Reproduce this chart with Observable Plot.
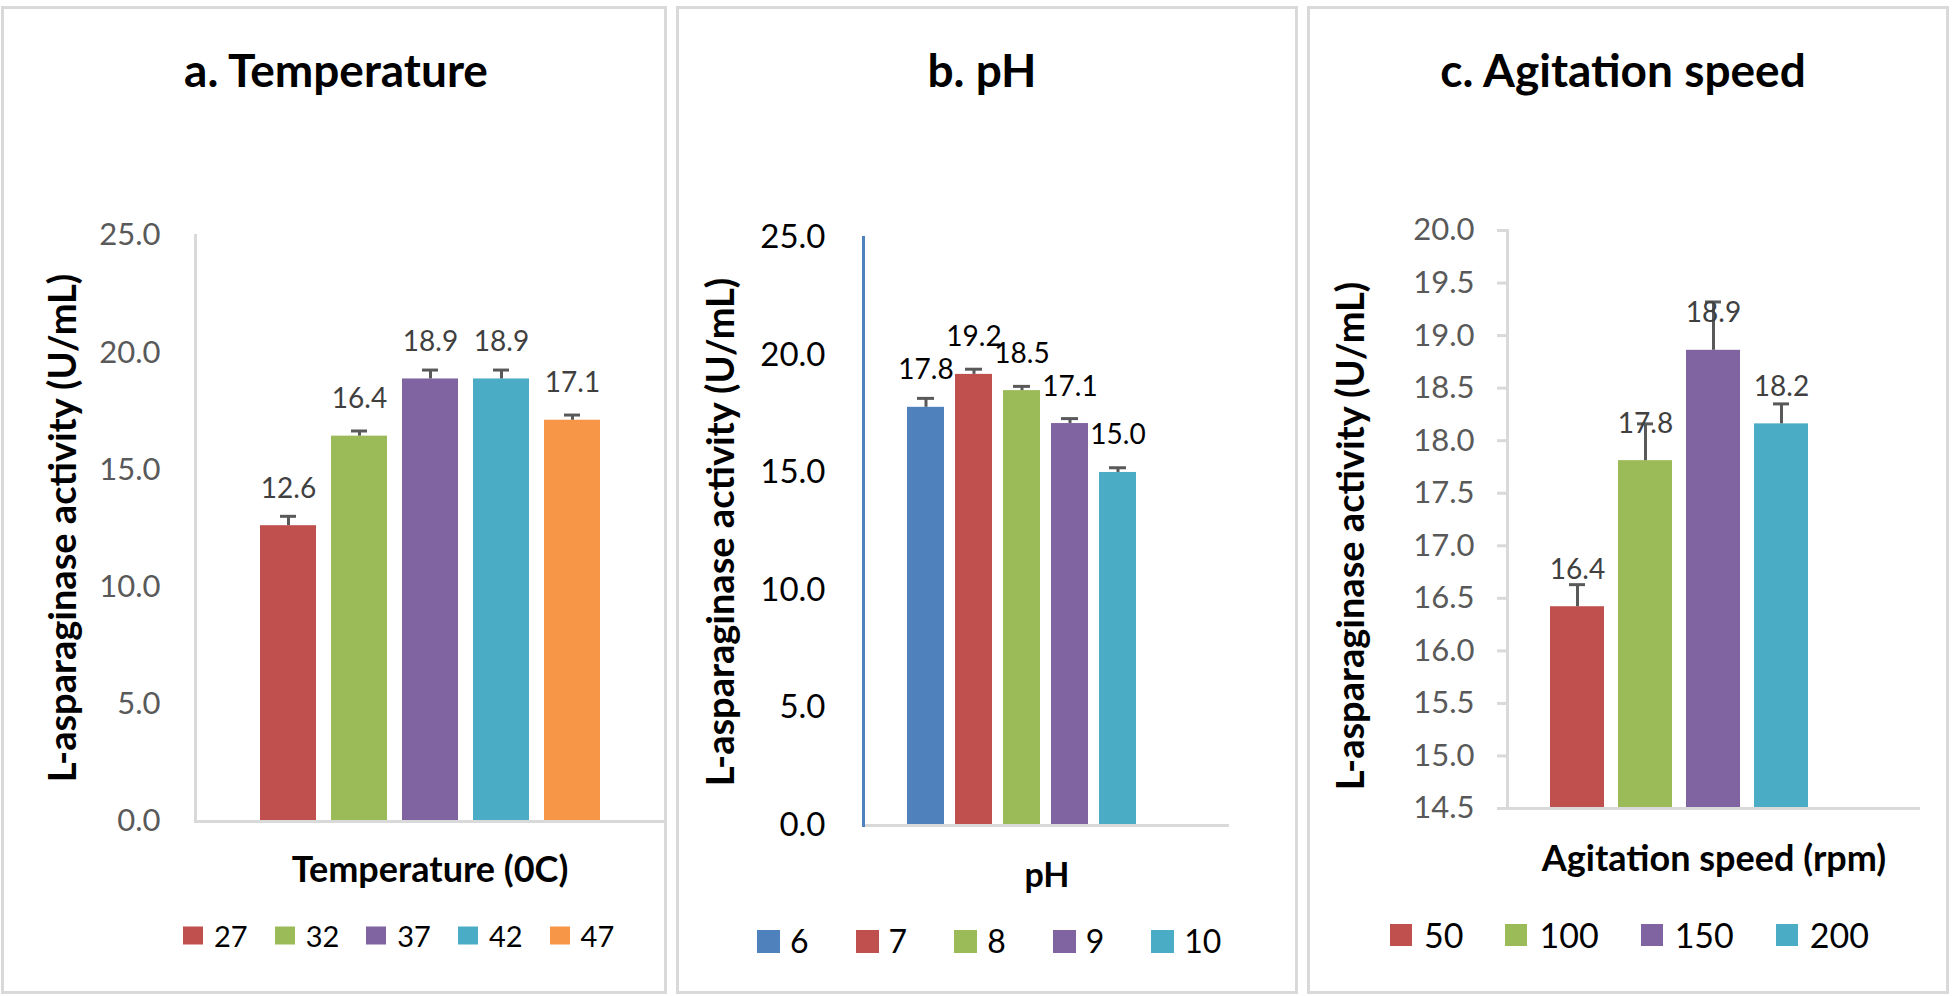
<!DOCTYPE html>
<html><head><meta charset="utf-8">
<script src="https://cdn.jsdelivr.net/npm/d3@7"></script>
<script src="https://cdn.jsdelivr.net/npm/@observablehq/plot@0.6"></script>
<style>
body{margin:0;width:1952px;height:996px;background:#fff;position:relative;overflow:hidden;font-family:Lato,sans-serif}
.panel{position:absolute;border:3px solid #d9d9d9;box-sizing:border-box}
.title{position:absolute;font-weight:bold;font-size:46px;transform:translate(-50%,-50%);white-space:nowrap;color:#000;line-height:1}
.ylab{position:absolute;font-weight:bold;font-size:38px;transform:translate(-50%,-50%) rotate(-90deg);white-space:nowrap;color:#000;line-height:1}
.xlab{position:absolute;font-weight:bold;transform:translate(-50%,-50%);white-space:nowrap;color:#000;line-height:1}
.legend{position:absolute;display:flex;align-items:center;transform:translateY(-50%);white-space:nowrap;color:#000;line-height:1}
.legend .sw{display:inline-block}
.plot{position:absolute}
.plot svg{overflow:visible}
</style></head><body>
<script>
// ---- data ----
const tempCats = ["27", "32", "37", "42", "47"];
const tempValues = [12.62, 16.44, 18.88, 18.88, 17.12];
const tempErrors = [0.40, 0.22, 0.38, 0.38, 0.22];
const tempTicks = [0, 5, 10, 15, 20, 25];

const phCats = ["6", "7", "8", "9", "10"];
const phValues = [17.78, 19.18, 18.49, 17.09, 15.01];
const phErrors = [0.38, 0.22, 0.18, 0.21, 0.20];
const phTicks = [0, 5, 10, 15, 20, 25];

const speedCats = ["50", "100", "150", "200"];
const speedValues = [16.42, 17.81, 18.86, 18.16];
const speedErrors = [0.21, 0.35, 0.46, 0.19];
const speedTicks = [14.5, 15, 15.5, 16, 16.5, 17, 17.5, 18, 18.5, 19, 19.5, 20];

// ---- palette ----
const RED = "#C0504D", GREEN = "#9BBB59", PURPLE = "#8064A2", AQUA = "#4BACC6", ORANGE = "#F79646", BLUE = "#4F81BD";
const tempColors = [RED, GREEN, PURPLE, AQUA, ORANGE];
const phColors = [BLUE, RED, GREEN, PURPLE, AQUA];
const speedColors = [RED, GREEN, PURPLE, AQUA];

const panels = [
  {
    title: "a. Temperature", xLabel: "Temperature (0C)", yLabel: "L-asparaginase activity (U/mL)",
    cats: tempCats, values: tempValues, errors: tempErrors, ticks: tempTicks, colors: tempColors,
    box: {left: 1, width: 666}, titleX: 336,
    svg: {left: 0, width: 666, marginLeft: 195, marginTop: 45, marginBottom: 59},
    band: {paddingInner: 0.208, paddingOuter: 0.875, align: 0.5}, capInset: 20,
    yLabelPos: [61, 528], xLabelPos: [430, 868], xLabelFont: 36,
    tickSize: 0, tickPadding: 35, tickFont: 31, tickColor: "#595959", axisColor: "#d9d9d9",
    labelColor: "#404040",
    legend: {left: 183, top: 935, sw: [20, 18], gap: 11, space: 27, font: 29}
  },
  {
    title: "b. pH", xLabel: "pH", yLabel: "L-asparaginase activity (U/mL)",
    cats: phCats, values: phValues, errors: phErrors, ticks: phTicks, colors: phColors,
    box: {left: 676, width: 622}, titleX: 982,
    svg: {left: 677, width: 552, marginLeft: 186, marginTop: 47, marginBottom: 55},
    band: {paddingInner: 0.22, paddingOuter: 1.367, align: 0.323}, capInset: 10,
    yLabelPos: [719, 532], xLabelPos: [1047, 874], xLabelFont: 34,
    tickSize: 0, tickPadding: 38, tickFont: 33, tickColor: "#000000", axisColor: BLUE,
    labelColor: "#000000",
    legend: {left: 757, top: 941, sw: [23, 23], gap: 10, space: 47, font: 32}
  },
  {
    title: "c. Agitation speed", xLabel: "Agitation speed (rpm)", yLabel: "L-asparaginase activity (U/mL)",
    cats: speedCats, values: speedValues, errors: speedErrors, ticks: speedTicks, colors: speedColors,
    box: {left: 1307, width: 642}, titleX: 1623,
    svg: {left: 1308, width: 612, marginLeft: 199, marginTop: 40, marginBottom: 72},
    band: {paddingInner: 0.2, paddingOuter: 1.106, align: 0.276}, capInset: 19,
    yLabelPos: [1349, 536], xLabelPos: [1714, 857], xLabelFont: 36,
    tickSize: 10, tickPadding: 23, tickFont: 31, tickColor: "#595959", axisColor: "#d9d9d9",
    labelColor: "#404040",
    legend: {left: 1390, top: 935, sw: [22, 22], gap: 12, space: 42, font: 34}
  }
];

const SVG_TOP = 190, SVG_H = 690;

function el(tag, cls, css, text) {
  const e = document.createElement(tag);
  if (cls) e.className = cls;
  Object.assign(e.style, css || {});
  if (text != null) e.textContent = text;
  document.body.appendChild(e);
  return e;
}

for (const p of panels) {
  el("div", "panel", {left: p.box.left + "px", top: "6px", width: p.box.width + "px", height: "988px"});
  el("div", "title", {left: p.titleX + "px", top: "70px"}, p.title);

  const data = p.cats.map((c, i) => ({cat: c, value: p.values[i], err: p.errors[i]}));
  const y0 = p.ticks[0], y1 = p.ticks[p.ticks.length - 1];

  const chart = Plot.plot({
    width: p.svg.width, height: SVG_H,
    marginLeft: p.svg.marginLeft, marginRight: 0,
    marginTop: p.svg.marginTop, marginBottom: p.svg.marginBottom,
    style: {fontFamily: "Lato, sans-serif", background: "transparent", overflow: "visible"},
    x: {domain: p.cats, paddingInner: p.band.paddingInner, paddingOuter: p.band.paddingOuter, align: p.band.align, axis: null},
    y: {domain: [y0, y1], axis: null, label: null},
    color: {domain: p.cats, range: p.colors},
    marks: [
      Plot.barY(data, {x: "cat", y1: () => y0, y2: "value", fill: "cat"}),
      Plot.ruleY([y0], {stroke: "#d9d9d9", strokeWidth: 3}),
      Plot.frame({anchor: "left", stroke: p.axisColor, strokeWidth: 3}),
      Plot.axisY({ticks: p.ticks, tickFormat: d => d.toFixed(1), tickSize: p.tickSize, tickPadding: p.tickPadding,
                  fontSize: p.tickFont, fill: p.tickColor, stroke: "#d9d9d9", strokeWidth: 3, label: null}),
      Plot.ruleX(data, {x: "cat", y1: "value", y2: d => d.value + d.err, stroke: "#595959", strokeWidth: 3}),
      Plot.tickY(data, {x: "cat", y: d => d.value + d.err, stroke: "#595959", strokeWidth: 3, insetLeft: p.capInset, insetRight: p.capInset}),
      Plot.text(data, {x: "cat", y: "value", text: d => d.value.toFixed(1), dy: -37, fontSize: 28, fill: p.labelColor})
    ]
  });
  const holder = el("div", "plot", {left: p.svg.left + "px", top: SVG_TOP + "px"});
  holder.appendChild(chart);

  el("div", "ylab", {left: p.yLabelPos[0] + "px", top: p.yLabelPos[1] + "px"}, p.yLabel);
  el("div", "xlab", {left: p.xLabelPos[0] + "px", top: p.xLabelPos[1] + "px", fontSize: p.xLabelFont + "px"}, p.xLabel);

  const lg = el("div", "legend", {left: p.legend.left + "px", top: p.legend.top + "px", fontSize: p.legend.font + "px"});
  p.cats.forEach((c, i) => {
    const item = document.createElement("span");
    item.style.display = "inline-flex";
    item.style.alignItems = "center";
    item.style.marginRight = (i < p.cats.length - 1 ? p.legend.space : 0) + "px";
    const sw = document.createElement("span");
    sw.className = "sw";
    Object.assign(sw.style, {width: p.legend.sw[0] + "px", height: p.legend.sw[1] + "px", background: p.colors[i], marginRight: p.legend.gap + "px"});
    const t = document.createElement("span");
    t.textContent = c;
    item.appendChild(sw); item.appendChild(t);
    lg.appendChild(item);
  });
}
</script>
</body></html>
